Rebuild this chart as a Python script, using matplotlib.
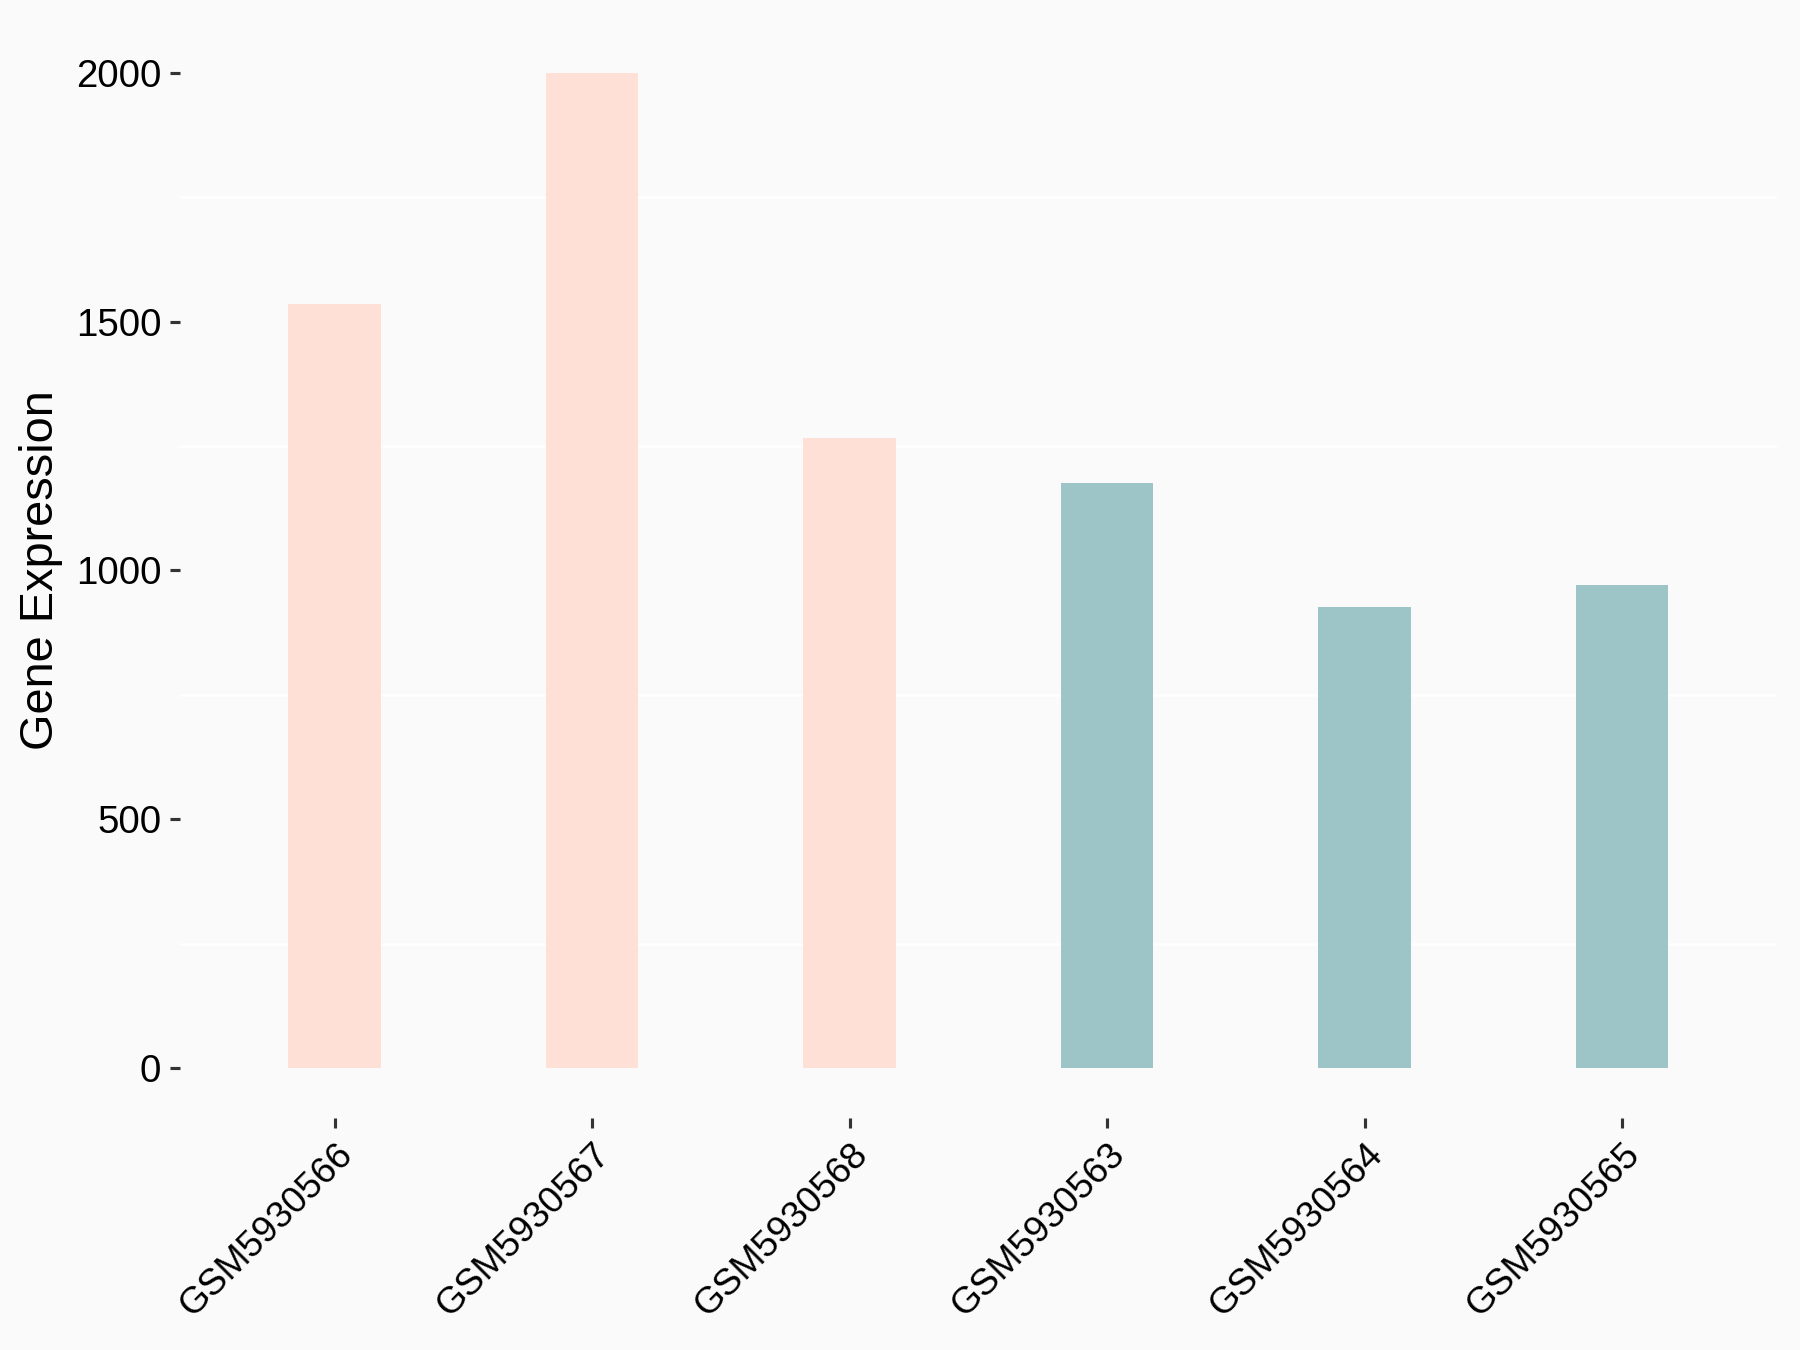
import matplotlib.pyplot as plt

plt.rcParams['font.family'] = ['Liberation Sans', 'DejaVu Sans']

samples = ['GSM5930566', 'GSM5930567', 'GSM5930568', 'GSM5930563', 'GSM5930564', 'GSM5930565']
expression = [1535, 2000, 1267, 1175, 926, 970]
group = ['a', 'a', 'a', 'b', 'b', 'b']
group_colors = {'a': '#FEE0D6', 'b': '#9DC4C7'}

fig = plt.figure(figsize=(12, 9), dpi=150, facecolor='#FAFAFA')
ax = fig.add_axes([0.1, 0.172, 0.887, 0.811], facecolor='#FAFAFA')

x = list(range(1, len(samples) + 1))
ax.bar(x, expression, width=0.36, color=[group_colors[g] for g in group], zorder=2)

ax.set_xlim(0.4, 6.6)
ax.set_ylim(-100, 2100)
ax.set_yticks([0, 500, 1000, 1500, 2000])
ax.set_yticks([250, 750, 1250, 1750], minor=True)
ax.grid(which='minor', axis='y', color='white', linewidth=1.2, zorder=1)
ax.tick_params(axis='y', which='minor', length=0)

ax.set_xticks(x)
ax.set_xticklabels(samples, rotation=45, ha='right', va='top', rotation_mode='anchor')

for s in ax.spines.values():
    s.set_visible(False)

ax.tick_params(axis='both', which='major', color='#333333',
               labelcolor='black', length=5, width=1.5)
ax.tick_params(axis='y', labelsize=18.5, pad=4)
ax.tick_params(axis='x', labelsize=17.8, pad=4)

ax.set_ylabel('Gene Expression', fontsize=22.5, labelpad=6)

plt.savefig('out.png', dpi=150, facecolor=fig.get_facecolor())
